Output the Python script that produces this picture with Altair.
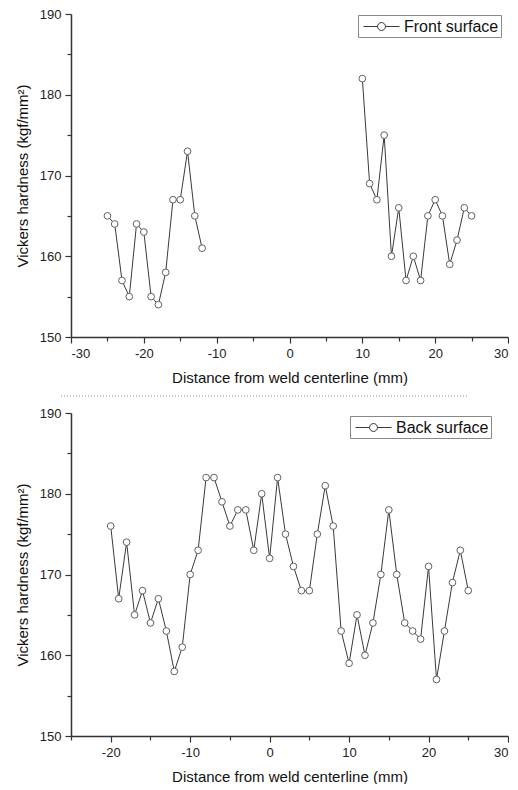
import altair as alt
import pandas as pd

# ---- data ----
front_x_left = list(range(-25, -11))
front_y_left = [165, 164, 157, 155, 164, 163, 155, 154, 158, 167, 167, 173, 165, 161]
front_x_right = list(range(10, 26))
front_y_right = [182, 169, 167, 175, 160, 166, 157, 160, 157, 165, 167, 165, 159, 162, 166, 165]
back_x = list(range(-20, 26))
back_y = [176, 167, 174, 165, 168, 164, 167, 163, 158, 161,
          170, 173, 182, 182, 179, 176, 178, 178, 173, 180,
          172, 182, 175, 171, 168, 168, 175, 181, 176, 163,
          159, 165, 160, 164, 170, 178, 170, 164, 163, 162,
          171, 157, 163, 169, 173, 168]
y_ticks = [150, 155, 160, 165, 170, 175, 180, 185, 190]
x_ticks_top = [-30, -25, -20, -15, -10, -5, 0, 5, 10, 15, 20, 25, 30]
x_ticks_bottom = [-25, -20, -15, -10, -5, 0, 5, 10, 15, 20, 25, 30]
separator = [0]

front = pd.DataFrame({
    "x": front_x_left + front_x_right,
    "y": front_y_left + front_y_right,
    "seg": ["a"] * len(front_x_left) + ["b"] * len(front_x_right),
    "series": "Front surface",
})
back = pd.DataFrame({"x": back_x, "y": back_y, "seg": "a", "series": "Back surface"})

FONT = "Liberation Sans"
W, H = 437, 323
LINE = "#3a3a3a"
MARK = "#606060"
YTITLE = "Vickers hardness (kgf/mm²)"
XTITLE = "Distance from weld centerline (mm)"
# legend glyph: line - open circle - line (unit box is [-1,1], drawn wider to the right)
SYM = "M-1,0H0.56M1.44,0H3M1.44,0A0.44,0.44,0,1,1,0.56,0A0.44,0.44,0,1,1,1.44,0Z"
LABEL_EXPR = "abs(datum.value) % 10 == 0 ? ('' + datum.value) : ''"
TICK_SIZE = {"condition": {"test": "abs(datum.value) % 10 != 0", "value": 4}, "value": 6}


def axis_y():
    return alt.Axis(values=y_ticks, tickCount=50, title=YTITLE, labelExpr=LABEL_EXPR,
                    tickSize=TICK_SIZE, grid=False, labelOverlap=False,
                    titlePadding=9, labelPadding=4)


def axis_x(vals):
    return alt.Axis(values=vals, tickCount=50, title=XTITLE, labelExpr=LABEL_EXPR,
                    tickSize=TICK_SIZE, grid=False, labelOverlap=False,
                    titlePadding=10, labelPadding=4, labelAngle=0)


def panel(df, xdom, xvals, lx, ly, with_sep=False):
    base = alt.Chart(df)
    xenc = alt.X("x:Q", scale=alt.Scale(domain=xdom, nice=False, zero=False), axis=axis_x(xvals))
    yenc = alt.Y("y:Q", scale=alt.Scale(domain=[150, 190], nice=False, zero=False), axis=axis_y())
    line = base.mark_line(strokeWidth=1).encode(
        x=xenc, y=yenc, detail="seg:N",
        color=alt.Color("series:N", scale=alt.Scale(range=[LINE]),
                        legend=alt.Legend(title=None, orient="none", legendX=lx, legendY=ly,
                                          symbolType=SYM, symbolSize=324, symbolStrokeWidth=1,
                                          symbolStrokeColor=LINE, symbolFillColor="white",
                                          labelFont=FONT, labelFontSize=16, labelColor="#111",
                                          strokeColor="#888", padding=2, labelOffset=22,
                                          symbolOffset=3, fillColor="white")),
    )
    pts = base.mark_point(shape="circle", filled=True, fill="white", stroke=MARK,
                          strokeWidth=1, size=45, opacity=1).encode(x="x:Q", y="y:Q")
    layers = [line, pts]
    if with_sep:
        sep = alt.Chart(pd.DataFrame({"s": separator})).mark_rule(
            color="#999", strokeDash=[1, 2], strokeWidth=1).encode(
            x=alt.value(-10), x2=alt.value(396), y=alt.value(H + 59))
        layers.append(sep)
    return alt.layer(*layers).properties(width=W, height=H)


top = panel(front, [-30, 30], x_ticks_top, 287, 1, with_sep=True)
bottom = panel(back, [-25, 30], x_ticks_bottom, 279, 3)

chart = alt.vconcat(top, bottom, spacing=10).resolve_scale(
    x="independent", y="independent", color="independent"
).resolve_axis(x="independent", y="independent").resolve_legend(color="independent").properties(
    padding={"left": 7, "top": 0, "right": 0, "bottom": 0}
).configure_view(stroke=None).configure_axis(
    labelFont=FONT, titleFont=FONT, labelFontSize=13, titleFontSize=15,
    titleFontWeight="normal", labelColor="#222", titleColor="#111",
    domainColor="#333", tickColor="#333", domainWidth=1.5, tickWidth=1.2,
).configure_legend(labelFont=FONT)

chart.save("out.html", embed_options={"renderer": "svg", "actions": False})
